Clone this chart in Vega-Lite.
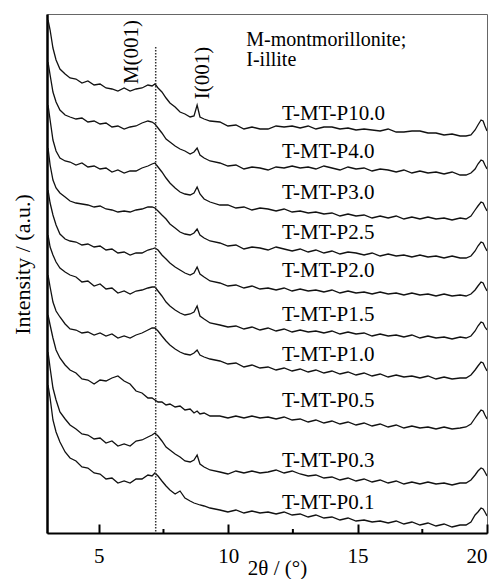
{
"$schema":"https://vega.github.io/schema/vega-lite/v6.json",
"width":440,"height":519,
"autosize":{"type":"none"},
"padding":{"left":47,"top":14,"right":3,"bottom":46},
"config":{"view":{"stroke":"#666","strokeWidth":1},"font":"Liberation Serif","axis":{"grid":false}},
"datasets":{
"curves":[
{"s":"P10.0","x":3.04,"y":513},{"s":"P10.0","x":3.12,"y":503},{"s":"P10.0","x":3.23,"y":485},{"s":"P10.0","x":3.35,"y":473},{"s":"P10.0","x":3.5,"y":464},{"s":"P10.0","x":3.7,"y":459},{"s":"P10.0","x":3.89,"y":455},{"s":"P10.0","x":4.12,"y":454},{"s":"P10.0","x":4.35,"y":450},{"s":"P10.0","x":4.58,"y":452},{"s":"P10.0","x":4.82,"y":448},{"s":"P10.0","x":5.05,"y":449},{"s":"P10.0","x":5.28,"y":445},{"s":"P10.0","x":5.51,"y":444},{"s":"P10.0","x":5.74,"y":442},{"s":"P10.0","x":5.98,"y":445},{"s":"P10.0","x":6.21,"y":442},{"s":"P10.0","x":6.44,"y":444},{"s":"P10.0","x":6.67,"y":445},{"s":"P10.0","x":6.9,"y":448},{"s":"P10.0","x":7.06,"y":447},{"s":"P10.0","x":7.17,"y":449},{"s":"P10.0","x":7.29,"y":445},{"s":"P10.0","x":7.44,"y":441},{"s":"P10.0","x":7.6,"y":435},{"s":"P10.0","x":7.75,"y":430},{"s":"P10.0","x":7.95,"y":426},{"s":"P10.0","x":8.14,"y":421},{"s":"P10.0","x":8.33,"y":419},{"s":"P10.0","x":8.53,"y":416},{"s":"P10.0","x":8.68,"y":417},{"s":"P10.0","x":8.8,"y":428},{"s":"P10.0","x":8.91,"y":416},{"s":"P10.0","x":9.07,"y":414},{"s":"P10.0","x":9.3,"y":412},
{"s":"P10.0","x":9.68,"y":411},{"s":"P10.0","x":9.99,"y":407},{"s":"P10.0","x":10.3,"y":408},{"s":"P10.0","x":10.61,"y":404},{"s":"P10.0","x":10.92,"y":406},{"s":"P10.0","x":11.23,"y":404},{"s":"P10.0","x":11.54,"y":404},{"s":"P10.0","x":11.85,"y":407},{"s":"P10.0","x":12.16,"y":406},{"s":"P10.0","x":12.47,"y":407},{"s":"P10.0","x":12.78,"y":405},{"s":"P10.0","x":13.09,"y":407},{"s":"P10.0","x":13.39,"y":404},{"s":"P10.0","x":13.7,"y":406},{"s":"P10.0","x":14.01,"y":406},{"s":"P10.0","x":14.32,"y":404},{"s":"P10.0","x":14.63,"y":405},{"s":"P10.0","x":14.94,"y":403},{"s":"P10.0","x":15.25,"y":404},{"s":"P10.0","x":15.56,"y":403},{"s":"P10.0","x":15.87,"y":402},{"s":"P10.0","x":16.18,"y":404},{"s":"P10.0","x":16.49,"y":401},{"s":"P10.0","x":16.79,"y":401},{"s":"P10.0","x":17.1,"y":402},{"s":"P10.0","x":17.41,"y":402},{"s":"P10.0","x":17.72,"y":400},{"s":"P10.0","x":18.03,"y":400},{"s":"P10.0","x":18.34,"y":398},{"s":"P10.0","x":18.65,"y":399},{"s":"P10.0","x":18.96,"y":397},{"s":"P10.0","x":19.19,"y":397},{"s":"P10.0","x":19.38,"y":398},{"s":"P10.0","x":19.54,"y":403},{"s":"P10.0","x":19.65,"y":408},{"s":"P10.0","x":19.77,"y":413},{"s":"P10.0","x":19.85,"y":412},{"s":"P10.0","x":19.92,"y":407},{"s":"P10.0","x":20,"y":402},
{"s":"P4.0","x":3.04,"y":471},{"s":"P4.0","x":3.12,"y":458},{"s":"P4.0","x":3.23,"y":441},{"s":"P4.0","x":3.35,"y":431},{"s":"P4.0","x":3.5,"y":423},{"s":"P4.0","x":3.7,"y":418},{"s":"P4.0","x":3.89,"y":416},{"s":"P4.0","x":4.12,"y":414},{"s":"P4.0","x":4.35,"y":415},{"s":"P4.0","x":4.58,"y":411},{"s":"P4.0","x":4.82,"y":412},{"s":"P4.0","x":5.05,"y":409},{"s":"P4.0","x":5.28,"y":410},{"s":"P4.0","x":5.51,"y":406},{"s":"P4.0","x":5.74,"y":407},{"s":"P4.0","x":5.98,"y":404},{"s":"P4.0","x":6.21,"y":406},{"s":"P4.0","x":6.44,"y":407},{"s":"P4.0","x":6.67,"y":410},{"s":"P4.0","x":6.9,"y":412},{"s":"P4.0","x":7.06,"y":411},{"s":"P4.0","x":7.17,"y":409},{"s":"P4.0","x":7.29,"y":405},{"s":"P4.0","x":7.44,"y":400},{"s":"P4.0","x":7.6,"y":394},{"s":"P4.0","x":7.75,"y":391},{"s":"P4.0","x":7.95,"y":387},{"s":"P4.0","x":8.14,"y":384},{"s":"P4.0","x":8.33,"y":382},{"s":"P4.0","x":8.53,"y":379},{"s":"P4.0","x":8.68,"y":381},{"s":"P4.0","x":8.8,"y":385},{"s":"P4.0","x":8.91,"y":378},{"s":"P4.0","x":9.07,"y":375},{"s":"P4.0","x":9.3,"y":372},
{"s":"P4.0","x":9.68,"y":370},{"s":"P4.0","x":9.99,"y":367},{"s":"P4.0","x":10.3,"y":368},{"s":"P4.0","x":10.61,"y":364},{"s":"P4.0","x":10.92,"y":366},{"s":"P4.0","x":11.23,"y":365},{"s":"P4.0","x":11.54,"y":363},{"s":"P4.0","x":11.85,"y":366},{"s":"P4.0","x":12.16,"y":365},{"s":"P4.0","x":12.47,"y":367},{"s":"P4.0","x":12.78,"y":365},{"s":"P4.0","x":13.09,"y":366},{"s":"P4.0","x":13.39,"y":364},{"s":"P4.0","x":13.7,"y":367},{"s":"P4.0","x":14.01,"y":365},{"s":"P4.0","x":14.32,"y":363},{"s":"P4.0","x":14.63,"y":366},{"s":"P4.0","x":14.94,"y":364},{"s":"P4.0","x":15.25,"y":365},{"s":"P4.0","x":15.56,"y":362},{"s":"P4.0","x":15.87,"y":364},{"s":"P4.0","x":16.18,"y":363},{"s":"P4.0","x":16.49,"y":361},{"s":"P4.0","x":16.79,"y":363},{"s":"P4.0","x":17.1,"y":360},{"s":"P4.0","x":17.41,"y":362},{"s":"P4.0","x":17.72,"y":360},{"s":"P4.0","x":18.03,"y":361},{"s":"P4.0","x":18.34,"y":359},{"s":"P4.0","x":18.65,"y":361},{"s":"P4.0","x":18.96,"y":358},{"s":"P4.0","x":19.19,"y":358},{"s":"P4.0","x":19.38,"y":360},{"s":"P4.0","x":19.54,"y":364},{"s":"P4.0","x":19.65,"y":369},{"s":"P4.0","x":19.77,"y":373},{"s":"P4.0","x":19.85,"y":372},{"s":"P4.0","x":19.92,"y":368},{"s":"P4.0","x":20,"y":364},
{"s":"P3.0","x":3.04,"y":428},{"s":"P3.0","x":3.12,"y":413},{"s":"P3.0","x":3.23,"y":393},{"s":"P3.0","x":3.35,"y":382},{"s":"P3.0","x":3.5,"y":375},{"s":"P3.0","x":3.7,"y":372},{"s":"P3.0","x":3.89,"y":371},{"s":"P3.0","x":4.12,"y":368},{"s":"P3.0","x":4.35,"y":370},{"s":"P3.0","x":4.58,"y":366},{"s":"P3.0","x":4.82,"y":367},{"s":"P3.0","x":5.05,"y":364},{"s":"P3.0","x":5.28,"y":365},{"s":"P3.0","x":5.51,"y":361},{"s":"P3.0","x":5.74,"y":363},{"s":"P3.0","x":5.98,"y":360},{"s":"P3.0","x":6.21,"y":362},{"s":"P3.0","x":6.44,"y":362},{"s":"P3.0","x":6.67,"y":365},{"s":"P3.0","x":6.9,"y":367},{"s":"P3.0","x":7.06,"y":369},{"s":"P3.0","x":7.17,"y":370},{"s":"P3.0","x":7.29,"y":366},{"s":"P3.0","x":7.44,"y":361},{"s":"P3.0","x":7.6,"y":355},{"s":"P3.0","x":7.75,"y":350},{"s":"P3.0","x":7.95,"y":345},{"s":"P3.0","x":8.14,"y":341},{"s":"P3.0","x":8.33,"y":339},{"s":"P3.0","x":8.53,"y":338},{"s":"P3.0","x":8.68,"y":340},{"s":"P3.0","x":8.8,"y":346},{"s":"P3.0","x":8.91,"y":339},{"s":"P3.0","x":9.07,"y":334},{"s":"P3.0","x":9.3,"y":331},
{"s":"P3.0","x":9.68,"y":328},{"s":"P3.0","x":9.99,"y":328},{"s":"P3.0","x":10.3,"y":325},{"s":"P3.0","x":10.61,"y":326},{"s":"P3.0","x":10.92,"y":323},{"s":"P3.0","x":11.23,"y":325},{"s":"P3.0","x":11.54,"y":324},{"s":"P3.0","x":11.85,"y":322},{"s":"P3.0","x":12.16,"y":324},{"s":"P3.0","x":12.47,"y":321},{"s":"P3.0","x":12.78,"y":322},{"s":"P3.0","x":13.09,"y":320},{"s":"P3.0","x":13.39,"y":321},{"s":"P3.0","x":13.7,"y":319},{"s":"P3.0","x":14.01,"y":320},{"s":"P3.0","x":14.32,"y":317},{"s":"P3.0","x":14.63,"y":319},{"s":"P3.0","x":14.94,"y":317},{"s":"P3.0","x":15.25,"y":318},{"s":"P3.0","x":15.56,"y":315},{"s":"P3.0","x":15.87,"y":317},{"s":"P3.0","x":16.18,"y":315},{"s":"P3.0","x":16.49,"y":317},{"s":"P3.0","x":16.79,"y":314},{"s":"P3.0","x":17.1,"y":316},{"s":"P3.0","x":17.41,"y":314},{"s":"P3.0","x":17.72,"y":316},{"s":"P3.0","x":18.03,"y":314},{"s":"P3.0","x":18.34,"y":315},{"s":"P3.0","x":18.65,"y":313},{"s":"P3.0","x":18.96,"y":315},{"s":"P3.0","x":19.19,"y":314},{"s":"P3.0","x":19.38,"y":317},{"s":"P3.0","x":19.54,"y":323},{"s":"P3.0","x":19.65,"y":327},{"s":"P3.0","x":19.77,"y":331},{"s":"P3.0","x":19.85,"y":330},{"s":"P3.0","x":19.92,"y":326},{"s":"P3.0","x":20,"y":322},
{"s":"P2.5","x":3.04,"y":385},{"s":"P2.5","x":3.12,"y":368},{"s":"P2.5","x":3.23,"y":353},{"s":"P2.5","x":3.35,"y":345},{"s":"P2.5","x":3.5,"y":340},{"s":"P2.5","x":3.7,"y":336},{"s":"P2.5","x":3.89,"y":332},{"s":"P2.5","x":4.12,"y":330},{"s":"P2.5","x":4.35,"y":329},{"s":"P2.5","x":4.58,"y":328},{"s":"P2.5","x":4.82,"y":326},{"s":"P2.5","x":5.05,"y":327},{"s":"P2.5","x":5.28,"y":324},{"s":"P2.5","x":5.51,"y":323},{"s":"P2.5","x":5.74,"y":321},{"s":"P2.5","x":5.98,"y":322},{"s":"P2.5","x":6.21,"y":321},{"s":"P2.5","x":6.44,"y":323},{"s":"P2.5","x":6.67,"y":324},{"s":"P2.5","x":6.9,"y":326},{"s":"P2.5","x":7.06,"y":326},{"s":"P2.5","x":7.17,"y":325},{"s":"P2.5","x":7.29,"y":322},{"s":"P2.5","x":7.44,"y":318},{"s":"P2.5","x":7.6,"y":314},{"s":"P2.5","x":7.75,"y":309},{"s":"P2.5","x":7.95,"y":305},{"s":"P2.5","x":8.14,"y":301},{"s":"P2.5","x":8.33,"y":299},{"s":"P2.5","x":8.53,"y":298},{"s":"P2.5","x":8.68,"y":300},{"s":"P2.5","x":8.8,"y":304},{"s":"P2.5","x":8.91,"y":298},{"s":"P2.5","x":9.07,"y":295},{"s":"P2.5","x":9.3,"y":292},
{"s":"P2.5","x":9.68,"y":290},{"s":"P2.5","x":9.99,"y":287},{"s":"P2.5","x":10.3,"y":288},{"s":"P2.5","x":10.61,"y":284},{"s":"P2.5","x":10.92,"y":286},{"s":"P2.5","x":11.23,"y":285},{"s":"P2.5","x":11.54,"y":283},{"s":"P2.5","x":11.85,"y":286},{"s":"P2.5","x":12.16,"y":284},{"s":"P2.5","x":12.47,"y":282},{"s":"P2.5","x":12.78,"y":284},{"s":"P2.5","x":13.09,"y":281},{"s":"P2.5","x":13.39,"y":283},{"s":"P2.5","x":13.7,"y":280},{"s":"P2.5","x":14.01,"y":282},{"s":"P2.5","x":14.32,"y":279},{"s":"P2.5","x":14.63,"y":281},{"s":"P2.5","x":14.94,"y":280},{"s":"P2.5","x":15.25,"y":278},{"s":"P2.5","x":15.56,"y":280},{"s":"P2.5","x":15.87,"y":277},{"s":"P2.5","x":16.18,"y":279},{"s":"P2.5","x":16.49,"y":277},{"s":"P2.5","x":16.79,"y":278},{"s":"P2.5","x":17.1,"y":276},{"s":"P2.5","x":17.41,"y":278},{"s":"P2.5","x":17.72,"y":276},{"s":"P2.5","x":18.03,"y":277},{"s":"P2.5","x":18.34,"y":275},{"s":"P2.5","x":18.65,"y":277},{"s":"P2.5","x":18.96,"y":275},{"s":"P2.5","x":19.19,"y":275},{"s":"P2.5","x":19.38,"y":277},{"s":"P2.5","x":19.54,"y":282},{"s":"P2.5","x":19.65,"y":287},{"s":"P2.5","x":19.77,"y":291},{"s":"P2.5","x":19.85,"y":290},{"s":"P2.5","x":19.92,"y":286},{"s":"P2.5","x":20,"y":282},
{"s":"P2.0","x":3.04,"y":343},{"s":"P2.0","x":3.12,"y":330},{"s":"P2.0","x":3.23,"y":318},{"s":"P2.0","x":3.35,"y":308},{"s":"P2.0","x":3.5,"y":299},{"s":"P2.0","x":3.7,"y":294},{"s":"P2.0","x":3.89,"y":292},{"s":"P2.0","x":4.12,"y":291},{"s":"P2.0","x":4.35,"y":288},{"s":"P2.0","x":4.58,"y":289},{"s":"P2.0","x":4.82,"y":286},{"s":"P2.0","x":5.05,"y":287},{"s":"P2.0","x":5.28,"y":283},{"s":"P2.0","x":5.51,"y":284},{"s":"P2.0","x":5.74,"y":280},{"s":"P2.0","x":5.98,"y":281},{"s":"P2.0","x":6.21,"y":278},{"s":"P2.0","x":6.44,"y":280},{"s":"P2.0","x":6.67,"y":280},{"s":"P2.0","x":6.9,"y":283},{"s":"P2.0","x":7.06,"y":284},{"s":"P2.0","x":7.17,"y":285},{"s":"P2.0","x":7.29,"y":283},{"s":"P2.0","x":7.44,"y":278},{"s":"P2.0","x":7.6,"y":274},{"s":"P2.0","x":7.75,"y":270},{"s":"P2.0","x":7.95,"y":266},{"s":"P2.0","x":8.14,"y":263},{"s":"P2.0","x":8.33,"y":260},{"s":"P2.0","x":8.53,"y":258},{"s":"P2.0","x":8.68,"y":260},{"s":"P2.0","x":8.8,"y":266},{"s":"P2.0","x":8.91,"y":259},{"s":"P2.0","x":9.07,"y":256},{"s":"P2.0","x":9.3,"y":252},
{"s":"P2.0","x":9.68,"y":250},{"s":"P2.0","x":9.99,"y":247},{"s":"P2.0","x":10.3,"y":248},{"s":"P2.0","x":10.61,"y":245},{"s":"P2.0","x":10.92,"y":247},{"s":"P2.0","x":11.23,"y":244},{"s":"P2.0","x":11.54,"y":245},{"s":"P2.0","x":11.85,"y":243},{"s":"P2.0","x":12.16,"y":245},{"s":"P2.0","x":12.47,"y":242},{"s":"P2.0","x":12.78,"y":244},{"s":"P2.0","x":13.09,"y":242},{"s":"P2.0","x":13.39,"y":243},{"s":"P2.0","x":13.7,"y":241},{"s":"P2.0","x":14.01,"y":243},{"s":"P2.0","x":14.32,"y":240},{"s":"P2.0","x":14.63,"y":242},{"s":"P2.0","x":14.94,"y":240},{"s":"P2.0","x":15.25,"y":241},{"s":"P2.0","x":15.56,"y":239},{"s":"P2.0","x":15.87,"y":241},{"s":"P2.0","x":16.18,"y":239},{"s":"P2.0","x":16.49,"y":240},{"s":"P2.0","x":16.79,"y":238},{"s":"P2.0","x":17.1,"y":240},{"s":"P2.0","x":17.41,"y":238},{"s":"P2.0","x":17.72,"y":239},{"s":"P2.0","x":18.03,"y":237},{"s":"P2.0","x":18.34,"y":239},{"s":"P2.0","x":18.65,"y":237},{"s":"P2.0","x":18.96,"y":238},{"s":"P2.0","x":19.19,"y":237},{"s":"P2.0","x":19.38,"y":239},{"s":"P2.0","x":19.54,"y":243},{"s":"P2.0","x":19.65,"y":247},{"s":"P2.0","x":19.77,"y":251},{"s":"P2.0","x":19.85,"y":250},{"s":"P2.0","x":19.92,"y":246},{"s":"P2.0","x":20,"y":242},
{"s":"P1.5","x":3.04,"y":298},{"s":"P1.5","x":3.12,"y":286},{"s":"P1.5","x":3.23,"y":278},{"s":"P1.5","x":3.35,"y":271},{"s":"P1.5","x":3.5,"y":265},{"s":"P1.5","x":3.7,"y":261},{"s":"P1.5","x":3.89,"y":258},{"s":"P1.5","x":4.12,"y":256},{"s":"P1.5","x":4.35,"y":251},{"s":"P1.5","x":4.58,"y":252},{"s":"P1.5","x":4.82,"y":247},{"s":"P1.5","x":5.05,"y":249},{"s":"P1.5","x":5.28,"y":244},{"s":"P1.5","x":5.51,"y":245},{"s":"P1.5","x":5.74,"y":240},{"s":"P1.5","x":5.98,"y":242},{"s":"P1.5","x":6.21,"y":239},{"s":"P1.5","x":6.44,"y":242},{"s":"P1.5","x":6.67,"y":243},{"s":"P1.5","x":6.9,"y":245},{"s":"P1.5","x":7.06,"y":246},{"s":"P1.5","x":7.17,"y":246},{"s":"P1.5","x":7.29,"y":242},{"s":"P1.5","x":7.44,"y":237},{"s":"P1.5","x":7.6,"y":231},{"s":"P1.5","x":7.75,"y":227},{"s":"P1.5","x":7.95,"y":223},{"s":"P1.5","x":8.14,"y":220},{"s":"P1.5","x":8.33,"y":218},{"s":"P1.5","x":8.53,"y":219},{"s":"P1.5","x":8.68,"y":221},{"s":"P1.5","x":8.8,"y":227},{"s":"P1.5","x":8.91,"y":217},{"s":"P1.5","x":9.07,"y":214},{"s":"P1.5","x":9.3,"y":210},
{"s":"P1.5","x":9.68,"y":208},{"s":"P1.5","x":9.99,"y":206},{"s":"P1.5","x":10.3,"y":207},{"s":"P1.5","x":10.61,"y":204},{"s":"P1.5","x":10.92,"y":206},{"s":"P1.5","x":11.23,"y":203},{"s":"P1.5","x":11.54,"y":205},{"s":"P1.5","x":11.85,"y":202},{"s":"P1.5","x":12.16,"y":204},{"s":"P1.5","x":12.47,"y":201},{"s":"P1.5","x":12.78,"y":203},{"s":"P1.5","x":13.09,"y":201},{"s":"P1.5","x":13.39,"y":202},{"s":"P1.5","x":13.7,"y":200},{"s":"P1.5","x":14.01,"y":202},{"s":"P1.5","x":14.32,"y":199},{"s":"P1.5","x":14.63,"y":201},{"s":"P1.5","x":14.94,"y":199},{"s":"P1.5","x":15.25,"y":200},{"s":"P1.5","x":15.56,"y":197},{"s":"P1.5","x":15.87,"y":199},{"s":"P1.5","x":16.18,"y":197},{"s":"P1.5","x":16.49,"y":198},{"s":"P1.5","x":16.79,"y":196},{"s":"P1.5","x":17.1,"y":198},{"s":"P1.5","x":17.41,"y":195},{"s":"P1.5","x":17.72,"y":197},{"s":"P1.5","x":18.03,"y":195},{"s":"P1.5","x":18.34,"y":196},{"s":"P1.5","x":18.65,"y":194},{"s":"P1.5","x":18.96,"y":196},{"s":"P1.5","x":19.19,"y":195},{"s":"P1.5","x":19.38,"y":197},{"s":"P1.5","x":19.54,"y":202},{"s":"P1.5","x":19.65,"y":207},{"s":"P1.5","x":19.77,"y":211},{"s":"P1.5","x":19.85,"y":210},{"s":"P1.5","x":19.92,"y":206},{"s":"P1.5","x":20,"y":203},
{"s":"P1.0","x":3.04,"y":258},{"s":"P1.0","x":3.12,"y":246},{"s":"P1.0","x":3.23,"y":231},{"s":"P1.0","x":3.35,"y":222},{"s":"P1.0","x":3.5,"y":216},{"s":"P1.0","x":3.7,"y":209},{"s":"P1.0","x":3.89,"y":204},{"s":"P1.0","x":4.12,"y":203},{"s":"P1.0","x":4.35,"y":200},{"s":"P1.0","x":4.58,"y":201},{"s":"P1.0","x":4.82,"y":198},{"s":"P1.0","x":5.05,"y":200},{"s":"P1.0","x":5.28,"y":197},{"s":"P1.0","x":5.51,"y":199},{"s":"P1.0","x":5.74,"y":195},{"s":"P1.0","x":5.98,"y":197},{"s":"P1.0","x":6.21,"y":195},{"s":"P1.0","x":6.44,"y":198},{"s":"P1.0","x":6.67,"y":200},{"s":"P1.0","x":6.9,"y":203},{"s":"P1.0","x":7.06,"y":205},{"s":"P1.0","x":7.17,"y":205},{"s":"P1.0","x":7.29,"y":202},{"s":"P1.0","x":7.44,"y":197},{"s":"P1.0","x":7.6,"y":192},{"s":"P1.0","x":7.75,"y":188},{"s":"P1.0","x":7.95,"y":184},{"s":"P1.0","x":8.14,"y":181},{"s":"P1.0","x":8.33,"y":179},{"s":"P1.0","x":8.53,"y":178},{"s":"P1.0","x":8.68,"y":180},{"s":"P1.0","x":8.8,"y":183},{"s":"P1.0","x":8.91,"y":178},{"s":"P1.0","x":9.07,"y":176},{"s":"P1.0","x":9.3,"y":174},
{"s":"P1.0","x":9.68,"y":172},{"s":"P1.0","x":9.99,"y":169},{"s":"P1.0","x":10.3,"y":170},{"s":"P1.0","x":10.61,"y":166},{"s":"P1.0","x":10.92,"y":168},{"s":"P1.0","x":11.23,"y":165},{"s":"P1.0","x":11.54,"y":166},{"s":"P1.0","x":11.85,"y":163},{"s":"P1.0","x":12.16,"y":165},{"s":"P1.0","x":12.47,"y":162},{"s":"P1.0","x":12.78,"y":164},{"s":"P1.0","x":13.09,"y":161},{"s":"P1.0","x":13.39,"y":163},{"s":"P1.0","x":13.7,"y":160},{"s":"P1.0","x":14.01,"y":162},{"s":"P1.0","x":14.32,"y":159},{"s":"P1.0","x":14.63,"y":161},{"s":"P1.0","x":14.94,"y":158},{"s":"P1.0","x":15.25,"y":160},{"s":"P1.0","x":15.56,"y":157},{"s":"P1.0","x":15.87,"y":159},{"s":"P1.0","x":16.18,"y":156},{"s":"P1.0","x":16.49,"y":158},{"s":"P1.0","x":16.79,"y":156},{"s":"P1.0","x":17.1,"y":157},{"s":"P1.0","x":17.41,"y":155},{"s":"P1.0","x":17.72,"y":157},{"s":"P1.0","x":18.03,"y":154},{"s":"P1.0","x":18.34,"y":156},{"s":"P1.0","x":18.65,"y":154},{"s":"P1.0","x":18.96,"y":155},{"s":"P1.0","x":19.19,"y":155},{"s":"P1.0","x":19.38,"y":158},{"s":"P1.0","x":19.54,"y":163},{"s":"P1.0","x":19.65,"y":167},{"s":"P1.0","x":19.77,"y":171},{"s":"P1.0","x":19.85,"y":170},{"s":"P1.0","x":19.92,"y":166},{"s":"P1.0","x":20,"y":162},
{"s":"P0.5","x":3.04,"y":218},{"s":"P0.5","x":3.12,"y":208},{"s":"P0.5","x":3.23,"y":195},{"s":"P0.5","x":3.35,"y":183},{"s":"P0.5","x":3.5,"y":175},{"s":"P0.5","x":3.7,"y":168},{"s":"P0.5","x":3.89,"y":163},{"s":"P0.5","x":4.12,"y":160},{"s":"P0.5","x":4.35,"y":154},{"s":"P0.5","x":4.58,"y":153},{"s":"P0.5","x":4.82,"y":149},{"s":"P0.5","x":5.05,"y":153},{"s":"P0.5","x":5.28,"y":152},{"s":"P0.5","x":5.51,"y":155},{"s":"P0.5","x":5.74,"y":157},{"s":"P0.5","x":5.98,"y":152},{"s":"P0.5","x":6.21,"y":149},{"s":"P0.5","x":6.44,"y":142},{"s":"P0.5","x":6.67,"y":140},{"s":"P0.5","x":6.9,"y":135},{"s":"P0.5","x":7.06,"y":135},{"s":"P0.5","x":7.17,"y":133},{"s":"P0.5","x":7.29,"y":131},{"s":"P0.5","x":7.44,"y":131},{"s":"P0.5","x":7.6,"y":128},{"s":"P0.5","x":7.75,"y":129},{"s":"P0.5","x":7.95,"y":126},{"s":"P0.5","x":8.14,"y":127},{"s":"P0.5","x":8.33,"y":123},{"s":"P0.5","x":8.53,"y":124},{"s":"P0.5","x":8.68,"y":120},{"s":"P0.5","x":8.8,"y":122},{"s":"P0.5","x":8.91,"y":119},{"s":"P0.5","x":9.07,"y":120},{"s":"P0.5","x":9.3,"y":117},
{"s":"P0.5","x":9.68,"y":117},{"s":"P0.5","x":9.99,"y":115},{"s":"P0.5","x":10.3,"y":117},{"s":"P0.5","x":10.61,"y":115},{"s":"P0.5","x":10.92,"y":117},{"s":"P0.5","x":11.23,"y":115},{"s":"P0.5","x":11.54,"y":116},{"s":"P0.5","x":11.85,"y":114},{"s":"P0.5","x":12.16,"y":116},{"s":"P0.5","x":12.47,"y":113},{"s":"P0.5","x":12.78,"y":114},{"s":"P0.5","x":13.09,"y":111},{"s":"P0.5","x":13.39,"y":113},{"s":"P0.5","x":13.7,"y":110},{"s":"P0.5","x":14.01,"y":112},{"s":"P0.5","x":14.32,"y":109},{"s":"P0.5","x":14.63,"y":111},{"s":"P0.5","x":14.94,"y":108},{"s":"P0.5","x":15.25,"y":110},{"s":"P0.5","x":15.56,"y":107},{"s":"P0.5","x":15.87,"y":109},{"s":"P0.5","x":16.18,"y":106},{"s":"P0.5","x":16.49,"y":108},{"s":"P0.5","x":16.79,"y":105},{"s":"P0.5","x":17.1,"y":107},{"s":"P0.5","x":17.41,"y":105},{"s":"P0.5","x":17.72,"y":106},{"s":"P0.5","x":18.03,"y":104},{"s":"P0.5","x":18.34,"y":106},{"s":"P0.5","x":18.65,"y":104},{"s":"P0.5","x":18.96,"y":105},{"s":"P0.5","x":19.19,"y":106},{"s":"P0.5","x":19.38,"y":109},{"s":"P0.5","x":19.54,"y":115},{"s":"P0.5","x":19.65,"y":119},{"s":"P0.5","x":19.77,"y":123},{"s":"P0.5","x":19.85,"y":122},{"s":"P0.5","x":19.92,"y":118},{"s":"P0.5","x":20,"y":114},
{"s":"P0.3","x":3.04,"y":181},{"s":"P0.3","x":3.12,"y":165},{"s":"P0.3","x":3.23,"y":145},{"s":"P0.3","x":3.35,"y":133},{"s":"P0.3","x":3.5,"y":121},{"s":"P0.3","x":3.7,"y":114},{"s":"P0.3","x":3.89,"y":108},{"s":"P0.3","x":4.12,"y":104},{"s":"P0.3","x":4.35,"y":99},{"s":"P0.3","x":4.58,"y":98},{"s":"P0.3","x":4.82,"y":94},{"s":"P0.3","x":5.05,"y":95},{"s":"P0.3","x":5.28,"y":90},{"s":"P0.3","x":5.51,"y":92},{"s":"P0.3","x":5.74,"y":87},{"s":"P0.3","x":5.98,"y":89},{"s":"P0.3","x":6.21,"y":87},{"s":"P0.3","x":6.44,"y":92},{"s":"P0.3","x":6.67,"y":93},{"s":"P0.3","x":6.9,"y":96},{"s":"P0.3","x":7.06,"y":98},{"s":"P0.3","x":7.17,"y":100},{"s":"P0.3","x":7.29,"y":97},{"s":"P0.3","x":7.44,"y":92},{"s":"P0.3","x":7.6,"y":86},{"s":"P0.3","x":7.75,"y":83},{"s":"P0.3","x":7.95,"y":79},{"s":"P0.3","x":8.14,"y":76},{"s":"P0.3","x":8.33,"y":72},{"s":"P0.3","x":8.53,"y":71},{"s":"P0.3","x":8.68,"y":73},{"s":"P0.3","x":8.8,"y":78},{"s":"P0.3","x":8.91,"y":69},{"s":"P0.3","x":9.07,"y":66},{"s":"P0.3","x":9.3,"y":63},
{"s":"P0.3","x":9.68,"y":61},{"s":"P0.3","x":9.99,"y":59},{"s":"P0.3","x":10.3,"y":62},{"s":"P0.3","x":10.61,"y":60},{"s":"P0.3","x":10.92,"y":62},{"s":"P0.3","x":11.23,"y":60},{"s":"P0.3","x":11.54,"y":61},{"s":"P0.3","x":11.85,"y":63},{"s":"P0.3","x":12.16,"y":60},{"s":"P0.3","x":12.47,"y":62},{"s":"P0.3","x":12.78,"y":59},{"s":"P0.3","x":13.09,"y":57},{"s":"P0.3","x":13.39,"y":58},{"s":"P0.3","x":13.7,"y":55},{"s":"P0.3","x":14.01,"y":56},{"s":"P0.3","x":14.32,"y":53},{"s":"P0.3","x":14.63,"y":55},{"s":"P0.3","x":14.94,"y":52},{"s":"P0.3","x":15.25,"y":54},{"s":"P0.3","x":15.56,"y":51},{"s":"P0.3","x":15.87,"y":53},{"s":"P0.3","x":16.18,"y":50},{"s":"P0.3","x":16.49,"y":52},{"s":"P0.3","x":16.79,"y":49},{"s":"P0.3","x":17.1,"y":51},{"s":"P0.3","x":17.41,"y":49},{"s":"P0.3","x":17.72,"y":51},{"s":"P0.3","x":18.03,"y":49},{"s":"P0.3","x":18.34,"y":50},{"s":"P0.3","x":18.65,"y":48},{"s":"P0.3","x":18.96,"y":50},{"s":"P0.3","x":19.19,"y":50},{"s":"P0.3","x":19.38,"y":53},{"s":"P0.3","x":19.54,"y":58},{"s":"P0.3","x":19.65,"y":62},{"s":"P0.3","x":19.77,"y":65},{"s":"P0.3","x":19.85,"y":64},{"s":"P0.3","x":19.92,"y":61},{"s":"P0.3","x":20,"y":57},
{"s":"P0.1","x":3.04,"y":148},{"s":"P0.1","x":3.12,"y":135},{"s":"P0.1","x":3.23,"y":113},{"s":"P0.1","x":3.35,"y":101},{"s":"P0.1","x":3.5,"y":91},{"s":"P0.1","x":3.7,"y":81},{"s":"P0.1","x":3.89,"y":75},{"s":"P0.1","x":4.12,"y":72},{"s":"P0.1","x":4.35,"y":66},{"s":"P0.1","x":4.58,"y":65},{"s":"P0.1","x":4.82,"y":60},{"s":"P0.1","x":5.05,"y":59},{"s":"P0.1","x":5.28,"y":54},{"s":"P0.1","x":5.51,"y":55},{"s":"P0.1","x":5.74,"y":50},{"s":"P0.1","x":5.98,"y":52},{"s":"P0.1","x":6.21,"y":50},{"s":"P0.1","x":6.44,"y":54},{"s":"P0.1","x":6.67,"y":54},{"s":"P0.1","x":6.9,"y":58},{"s":"P0.1","x":7.06,"y":57},{"s":"P0.1","x":7.17,"y":60},{"s":"P0.1","x":7.29,"y":57},{"s":"P0.1","x":7.44,"y":52},{"s":"P0.1","x":7.6,"y":47},{"s":"P0.1","x":7.75,"y":43},{"s":"P0.1","x":7.95,"y":39},{"s":"P0.1","x":8.14,"y":42},{"s":"P0.1","x":8.33,"y":35},{"s":"P0.1","x":8.53,"y":32},{"s":"P0.1","x":8.68,"y":30},{"s":"P0.1","x":8.8,"y":29},{"s":"P0.1","x":8.91,"y":28},{"s":"P0.1","x":9.07,"y":27},{"s":"P0.1","x":9.3,"y":25},
{"s":"P0.1","x":9.68,"y":23},{"s":"P0.1","x":9.99,"y":21},{"s":"P0.1","x":10.3,"y":23},{"s":"P0.1","x":10.61,"y":20},{"s":"P0.1","x":10.92,"y":22},{"s":"P0.1","x":11.23,"y":20},{"s":"P0.1","x":11.54,"y":21},{"s":"P0.1","x":11.85,"y":19},{"s":"P0.1","x":12.16,"y":21},{"s":"P0.1","x":12.47,"y":18},{"s":"P0.1","x":12.78,"y":19},{"s":"P0.1","x":13.09,"y":16},{"s":"P0.1","x":13.39,"y":18},{"s":"P0.1","x":13.7,"y":15},{"s":"P0.1","x":14.01,"y":16},{"s":"P0.1","x":14.32,"y":13},{"s":"P0.1","x":14.63,"y":15},{"s":"P0.1","x":14.94,"y":12},{"s":"P0.1","x":15.25,"y":13},{"s":"P0.1","x":15.56,"y":11},{"s":"P0.1","x":15.87,"y":12},{"s":"P0.1","x":16.18,"y":10},{"s":"P0.1","x":16.49,"y":12},{"s":"P0.1","x":16.79,"y":9},{"s":"P0.1","x":17.1,"y":11},{"s":"P0.1","x":17.41,"y":8},{"s":"P0.1","x":17.72,"y":10},{"s":"P0.1","x":18.03,"y":7},{"s":"P0.1","x":18.34,"y":9},{"s":"P0.1","x":18.65,"y":6},{"s":"P0.1","x":18.96,"y":8},{"s":"P0.1","x":19.19,"y":8},{"s":"P0.1","x":19.38,"y":11},{"s":"P0.1","x":19.54,"y":18},{"s":"P0.1","x":19.65,"y":21},{"s":"P0.1","x":19.77,"y":25},{"s":"P0.1","x":19.85,"y":24},{"s":"P0.1","x":19.92,"y":21},{"s":"P0.1","x":20,"y":17}
],
"labels":[
{"t":"T-MT-P10.0","x":12.08,"y":413},{"t":"T-MT-P4.0","x":12.08,"y":375},{"t":"T-MT-P3.0","x":12.08,"y":334},{"t":"T-MT-P2.5","x":12.08,"y":294},{"t":"T-MT-P2.0","x":12.08,"y":256},{"t":"T-MT-P1.5","x":12.08,"y":212},{"t":"T-MT-P1.0","x":12.08,"y":172},{"t":"T-MT-P0.5","x":12.08,"y":126},{"t":"T-MT-P0.3","x":12.08,"y":66},{"t":"T-MT-P0.1","x":12.08,"y":24}
],
"notes":[{"t":"M-montmorillonite;","x":10.7,"y":487},{"t":"I-illite","x":10.7,"y":467}],
"peaks":[{"t":"M(001)","x":6.28,"y":481},{"t":"I(001)","x":9.01,"y":460}],
"marker":[{"x":7.2,"y":486,"y0":0}],
"minor":[{"x":7.5,"y":4,"y0":0},{"x":12.5,"y":4,"y0":0},{"x":17.5,"y":4,"y0":0}]
},
"layer":[
{"data":{"name":"curves"},
"mark":{"type":"line","color":"#111","strokeWidth":1.3,"clip":true},
"encoding":{
"x":{"field":"x","type":"quantitative","scale":{"domain":[3,20],"nice":false,"zero":false},
"axis":{"title":"2θ / (°)","values":[5,10,15,20],"tickSize":-9,"tickWidth":2,"tickColor":"black","domainColor":"black","domainWidth":2,"labelFont":"Liberation Serif","labelFontSize":21,"labelColor":"black","labelPadding":21,"labelFlush":true,"labelOverlap":false,"titleFont":"Liberation Serif","titleFontSize":21,"titleFontWeight":"normal","titleColor":"black","titleX":230,"titleY":41,"titleBaseline":"alphabetic"}},
"y":{"field":"y","type":"quantitative","scale":{"domain":[0,519],"nice":false,"zero":false},
"axis":{"title":"Intensity / (a.u.)","ticks":false,"labels":false,"domainColor":"black","domainWidth":2.5,"titleFont":"Liberation Serif","titleFontSize":22,"titleFontWeight":"normal","titleColor":"black","titleX":-25,"titleY":250,"titleBaseline":"middle","titleAngle":270}},
"detail":{"field":"s"}}},
{"data":{"name":"marker"},
"mark":{"type":"rule","color":"#333","strokeWidth":1.5,"strokeDash":[1.5,1.5]},
"encoding":{"x":{"field":"x","type":"quantitative"},"y":{"field":"y","type":"quantitative"},"y2":{"field":"y0"}}},
{"data":{"name":"minor"},
"mark":{"type":"rule","color":"black","strokeWidth":2},
"encoding":{"x":{"field":"x","type":"quantitative"},"y":{"field":"y","type":"quantitative"},"y2":{"field":"y0"}}},
{"data":{"name":"labels"},
"mark":{"type":"text","align":"left","baseline":"alphabetic","font":"Liberation Serif","fontSize":21,"color":"black"},
"encoding":{"x":{"field":"x","type":"quantitative"},"y":{"field":"y","type":"quantitative"},"text":{"field":"t"}}},
{"data":{"name":"notes"},
"mark":{"type":"text","align":"left","baseline":"alphabetic","font":"Liberation Serif","fontSize":20,"color":"black"},
"encoding":{"x":{"field":"x","type":"quantitative"},"y":{"field":"y","type":"quantitative"},"text":{"field":"t"}}},
{"data":{"name":"peaks"},
"mark":{"type":"text","align":"center","baseline":"middle","angle":270,"font":"Liberation Serif","fontSize":21,"color":"black"},
"encoding":{"x":{"field":"x","type":"quantitative"},"y":{"field":"y","type":"quantitative"},"text":{"field":"t"}}}
]
}
